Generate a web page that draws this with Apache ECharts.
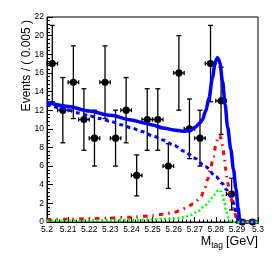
<!DOCTYPE html>
<html>
<head>
<meta charset="utf-8">
<script src="https://cdn.jsdelivr.net/npm/echarts@6/dist/echarts.min.js"></script>
<style>
html,body{margin:0;padding:0;background:#fff;}
#c{width:274px;height:272px;}
</style>
</head>
<body>
<div id="c"></div>
<script>
// ---- data ----
const binCenters = [5.2025,5.2075,5.2125,5.2175,5.2225,5.2275,5.2325,5.2375,5.2425,5.2475,
                    5.2525,5.2575,5.2625,5.2675,5.2725,5.2775,5.2825,5.2875,5.2925,5.2975];
const counts     = [17,12,15,11,9,15,9,12,5,11,11,6,16,10,9,17,13,3,0,0];
const errLow     = [4.1,3.5,3.9,3.3,3.0,3.9,3.0,3.5,2.2,3.3,3.3,2.4,4.0,3.2,3.0,4.1,3.6,1.7,0,0];
const errHigh    = [4.1,3.5,3.9,3.3,3.0,3.9,3.0,3.5,2.2,3.3,3.3,2.4,4.0,3.2,3.0,4.1,3.6,1.7,0,0];
const binHalfWidth = 0.0025;

const totalCurve = [[5.200,12.85],[5.210,12.4],[5.220,11.9],[5.230,11.45],[5.240,10.95],[5.2467,10.6],
  [5.250,10.4],[5.255,10.1],[5.260,9.88],[5.2645,9.75],[5.2675,9.8],[5.2705,10.2],[5.2725,10.65],
  [5.2737,11.0],[5.2752,11.9],[5.2768,13.3],[5.2784,15.5],[5.2797,17.1],[5.2803,17.5],[5.2808,17.62],
  [5.2814,17.45],[5.2819,17.1],[5.2832,15.1],[5.2844,12.6],[5.2856,10.2],[5.2871,7.8],[5.2884,5.6],
  [5.2895,3.6],[5.2906,1.5],[5.2914,0],[5.300,0]];
const bkgCurve = [[5.200,12.6],[5.205,12.3],[5.210,12.0],[5.215,11.7],[5.220,11.4],[5.225,11.1],
  [5.230,10.8],[5.235,10.45],[5.240,10.1],[5.245,9.7],[5.250,9.25],[5.255,8.8],[5.260,8.25],
  [5.265,7.6],[5.270,6.85],[5.275,5.95],[5.280,4.9],[5.283,4.15],[5.285,3.5],[5.287,2.75],
  [5.288,2.25],[5.289,1.6],[5.2897,0.95],[5.2903,0.3],[5.2906,0],[5.300,0]];
const sig1Curve = [[5.200,0.25],[5.210,0.3],[5.220,0.35],[5.230,0.42],[5.240,0.52],[5.250,0.68],
  [5.255,0.82],[5.260,1.02],[5.2635,1.25],[5.2657,1.5],[5.2697,2.0],[5.2729,2.7],[5.2748,3.6],
  [5.2762,4.6],[5.2775,5.7],[5.2788,7.0],[5.2800,8.2],[5.2810,9.0],[5.2818,9.3],[5.2826,8.9],
  [5.2834,7.8],[5.2841,6.8],[5.2848,5.5],[5.2856,4.2],[5.2871,2.6],[5.2887,1.1],[5.2900,0.3],
  [5.2908,0],[5.300,0]];
const sig2Curve = [[5.200,0.12],[5.210,0.13],[5.220,0.15],[5.230,0.18],[5.240,0.22],[5.250,0.28],
  [5.255,0.33],[5.260,0.38],[5.2649,0.48],[5.2681,0.75],[5.2713,1.1],[5.2744,1.65],[5.2768,2.2],
  [5.2792,2.9],[5.2808,3.35],[5.2816,3.45],[5.2824,3.3],[5.2832,2.9],[5.2840,2.2],[5.2848,1.3],
  [5.2856,0.57],[5.2866,0.1],[5.2871,0],[5.300,0]];

const xMin = 5.2, xMax = 5.3, xStep = 0.01;
const yMin = 0, yMax = 22, yStep = 2;
const yTitle = 'Events / ( 0.005 )';
const xTitle = '{a|M}{b|tag}{c|[GeV]}';

// ---- chart ----
const FONT = 'Liberation Sans';
const pointData = binCenters.map((c,i)=>[c, counts[i], errLow[i], errHigh[i]]);

const chart = echarts.init(document.getElementById('c'), null, {renderer:'canvas'});
chart.setOption({
  animation:false,
  backgroundColor:'#fff',
  textStyle:{fontFamily:FONT},
  grid:{left:47, top:17, right:16, bottom:50, containLabel:false, outerBoundsMode:'none',
    show:true, borderColor:'#000', borderWidth:1, backgroundColor:'transparent'},
  graphic:[
    {type:'text', x:26.5, y:20, rotation:Math.PI/2, silent:true,
      style:{text:yTitle, fill:'#000', font:'12px "Liberation Sans"', align:'right', verticalAlign:'middle'}},
    {type:'text', x:258, y:234, silent:true,
      style:{text:xTitle, align:'right', verticalAlign:'top',
        rich:{
          a:{fontSize:12.5, fontFamily:FONT, fill:'#000', lineHeight:16},
          b:{fontSize:8.5, fontFamily:FONT, fill:'#000', lineHeight:10, padding:[8,0,0,0]},
          c:{fontSize:12.5, fontFamily:FONT, fill:'#000', lineHeight:16, padding:[0,0,0,3]}
        }}}
  ],
  xAxis:{
    type:'value', min:xMin, max:xMax, interval:xStep,
    axisLine:{show:true, onZero:false, lineStyle:{color:'#000', width:1}},
    axisTick:{show:true, inside:true, length:5, lineStyle:{color:'#000', width:1}},
    minorTick:{show:true, splitNumber:5, length:2.5, lineStyle:{color:'#000', width:1}},
    splitLine:{show:false},
    axisLabel:{color:'#000', fontSize:8.5, fontFamily:FONT, margin:3,
      formatter:v=>String(+(+v).toFixed(2)), showMinLabel:true, showMaxLabel:true}
  },
  yAxis:{
    type:'value', min:yMin, max:yMax, interval:yStep,
    axisLine:{show:true, onZero:false, lineStyle:{color:'#000', width:1}},
    axisTick:{show:true, inside:true, length:6, lineStyle:{color:'#000', width:1}},
    minorTick:{show:true, splitNumber:5, length:3, lineStyle:{color:'#000', width:1}},
    splitLine:{show:false},
    axisLabel:{color:'#000', fontSize:8.5, fontFamily:FONT, margin:3}
  },
  series:[
    {
      type:'custom', z:1, clip:false,
      data:pointData,
      renderItem:function(params, api){
        const x = api.value(0), y = api.value(1), lo = api.value(2), hi = api.value(3);
        const c = api.coord([x,y]);
        const t = api.coord([x,y+hi]);
        const b = api.coord([x,y-lo]);
        const l = api.coord([x-binHalfWidth,y]);
        const r = api.coord([x+binHalfWidth,y]);
        const st = {stroke:'#000', lineWidth:1.3};
        const ch = [];
        if(hi>0){
          ch.push({type:'line', shape:{x1:c[0],y1:c[1],x2:t[0],y2:t[1]}, style:st});
          ch.push({type:'line', shape:{x1:c[0]-2.5,y1:t[1],x2:c[0]+2.5,y2:t[1]}, style:st});
        }
        if(lo>0){
          ch.push({type:'line', shape:{x1:c[0],y1:c[1],x2:b[0],y2:b[1]}, style:st});
          ch.push({type:'line', shape:{x1:c[0]-2.5,y1:b[1],x2:c[0]+2.5,y2:b[1]}, style:st});
        }
        ch.push({type:'line', shape:{x1:l[0],y1:c[1],x2:r[0],y2:c[1]}, style:st});
        ch.push({type:'line', shape:{x1:l[0],y1:c[1]-2,x2:l[0],y2:c[1]+2}, style:st});
        ch.push({type:'line', shape:{x1:r[0],y1:c[1]-2,x2:r[0],y2:c[1]+2}, style:st});
        ch.push({type:'circle', shape:{cx:c[0],cy:c[1],r:3.6}, style:{fill:'#000'}});
        return {type:'group', children:ch};
      }
    },
    {type:'line', z:3, data:totalCurve, showSymbol:false, smooth:0.3, smoothMonotone:'x', clip:true,
      lineStyle:{color:'#0000ff', width:3.5}},
    {type:'line', z:4, data:bkgCurve, showSymbol:false, smooth:0.3, smoothMonotone:'x', clip:true,
      lineStyle:{color:'#0000ff', width:3, type:[4,3.5], cap:'butt'}},
    {type:'line', z:5, data:sig1Curve, showSymbol:false, smooth:0.3, smoothMonotone:'x', clip:true,
      lineStyle:{color:'#ff0000', width:3, type:[4.5,5,1.5,5], cap:'butt'}},
    {type:'line', z:6, data:sig2Curve, showSymbol:false, smooth:0.3, smoothMonotone:'x', clip:true,
      lineStyle:{color:'#00ff00', width:2.5, type:[2,2.5], cap:'butt'}}
  ]
});
</script>
</body>
</html>
